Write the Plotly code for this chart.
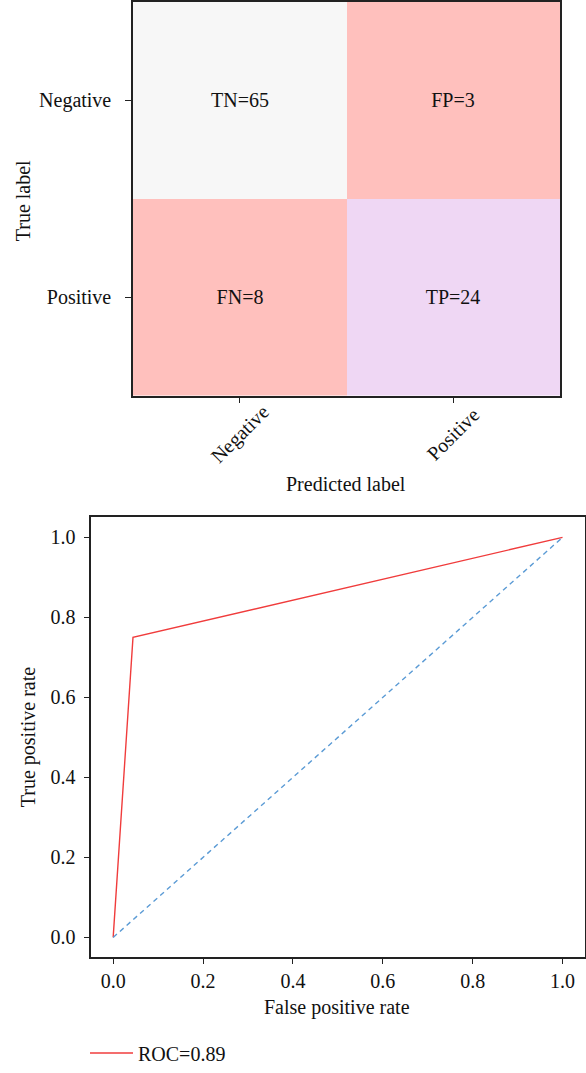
import plotly.graph_objects as go

# ---- data ----
class_labels = ["Negative", "Positive"]
cm_values = [[65, 3], [8, 24]]
cm_codes = [["TN", "FP"], ["FN", "TP"]]

fpr = [0.0, 0.0441, 1.0]
tpr = [0.0, 0.75, 1.0]
chance_x = [0.0, 1.0]
chance_y = [0.0, 1.0]
roc_label = "ROC=0.89"
roc_ticks = [0.0, 0.2, 0.4, 0.6, 0.8, 1.0]

W, H = 586, 1073
FONT = "Liberation Serif"
FS = 20

def px_x(p):
    return p / W

def px_y(p):
    return 1 - p / H

cell_text = [[f"{cm_codes[i][j]}={cm_values[i][j]}" for j in range(2)] for i in range(2)]

salmon = "#ffc0bd"
lav = "#efd7f4"
grey = "#f7f7f7"
colorscale = [[0, salmon], [0.2, salmon], [0.2, lav], [0.6, lav], [0.6, grey], [1, grey]]

fig = go.Figure()
fig.add_trace(go.Heatmap(
    z=cm_values, x=class_labels, y=class_labels,
    text=cell_text, texttemplate="%{text}",
    textfont=dict(family=FONT, size=FS, color="#111"),
    colorscale=colorscale, showscale=False, xgap=0, ygap=0,
    xaxis="x", yaxis="y", hoverinfo="skip", showlegend=False,
))

fig.add_trace(go.Scatter(
    x=fpr, y=tpr, mode="lines", name=roc_label,
    line=dict(color="#f03c3c", width=1.4),
    xaxis="x2", yaxis="y2", showlegend=True,
))
fig.add_trace(go.Scatter(
    x=chance_x, y=chance_y, mode="lines",
    line=dict(color="#5b9bd5", width=1.4, dash="5px,4px"),
    xaxis="x2", yaxis="y2", showlegend=False,
))

def axis_common(ticklen, standoff=0):
    return dict(
        showline=True, linecolor="#222", linewidth=1.5, mirror=True,
        ticks="outside", ticklen=ticklen, tickwidth=1.2, tickcolor="#222",
        showgrid=False, zeroline=False, ticklabelstandoff=standoff,
        tickfont=dict(family=FONT, size=FS, color="#111"),
    )

# rotated predicted-class labels, centred on their ticks (matplotlib style)
xlabel_annots = [
    dict(text=lab, x=lab, xref="x", y=px_y(436), yref="paper", textangle=-45,
         showarrow=False, xanchor="center", yanchor="middle",
         font=dict(family=FONT, size=FS, color="#111"))
    for lab in class_labels
]

fig.update_layout(
    width=W, height=H,
    margin=dict(l=0, r=0, t=0, b=0),
    paper_bgcolor="white", plot_bgcolor="white",
    font=dict(family=FONT, size=FS, color="#111"),
    xaxis=dict(domain=[px_x(133), px_x(560)], anchor="y", showticklabels=False,
               **axis_common(6)),
    yaxis=dict(domain=[px_y(397), px_y(2)], anchor="x", autorange="reversed",
               **axis_common(6, 10)),
    xaxis2=dict(domain=[px_x(90.7), px_x(585)], anchor="y2", range=[-0.05, 1.05],
                tickvals=roc_ticks, tickformat=".1f", **axis_common(4.5)),
    yaxis2=dict(domain=[px_y(961), px_y(519.3)], anchor="x2", range=[-0.05, 1.05],
                tickvals=roc_ticks, tickformat=".1f", **axis_common(4.5, 5)),
    legend=dict(x=px_x(85), y=px_y(1057), xanchor="left", yanchor="middle",
                itemwidth=43,
                font=dict(family=FONT, size=FS, color="#111"),
                bgcolor="rgba(0,0,0,0)", borderwidth=0),
    annotations=xlabel_annots + [
        dict(text="True label", x=px_x(23), y=px_y(202), xref="paper", yref="paper",
             textangle=-90, showarrow=False, xanchor="center", yanchor="middle"),
        dict(text="Predicted label", x=px_x(346), y=px_y(486), xref="paper", yref="paper",
             showarrow=False, xanchor="center", yanchor="middle"),
        dict(text="True positive rate", x=px_x(28), y=px_y(740), xref="paper", yref="paper",
             textangle=-90, showarrow=False, xanchor="center", yanchor="middle"),
        dict(text="False positive rate", x=px_x(337), y=px_y(1011), xref="paper", yref="paper",
             showarrow=False, xanchor="center", yanchor="middle"),
    ],
)

fig.write_html("out.html", config={"displayModeBar": False},
               post_script="document.body.style.margin='0px';")
